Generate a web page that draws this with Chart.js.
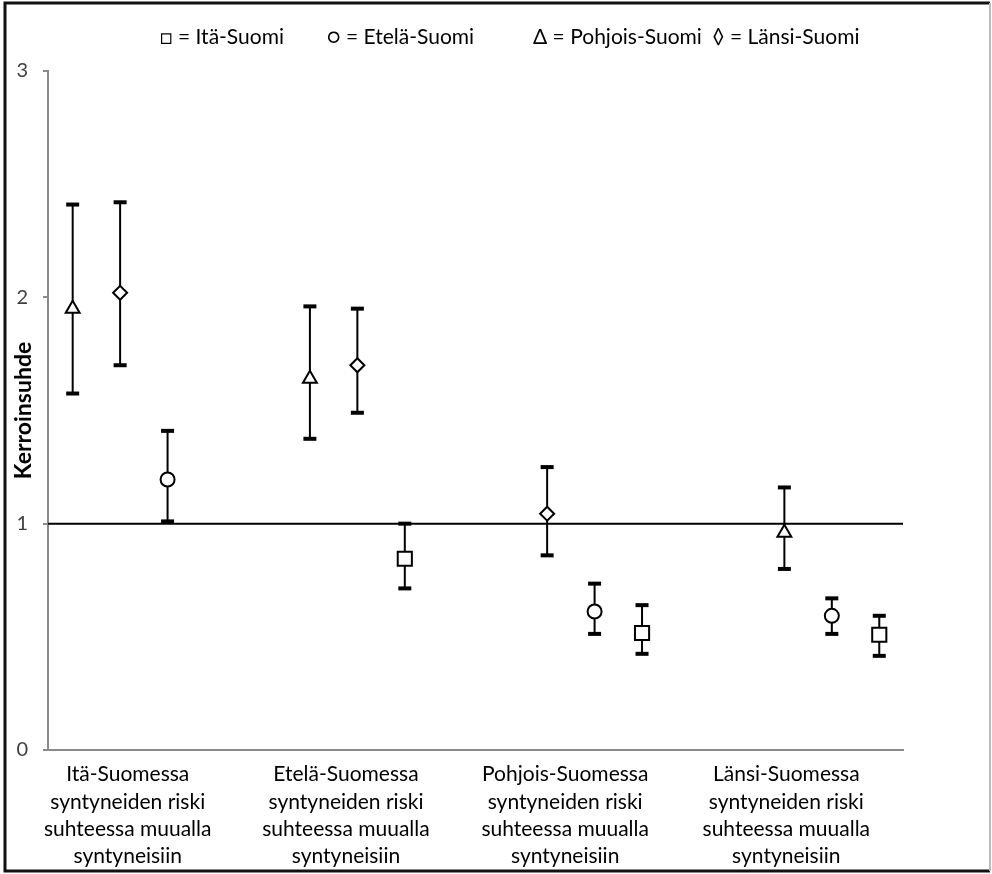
<!DOCTYPE html>
<html>
<head>
<meta charset="utf-8">
<script src="https://cdn.jsdelivr.net/npm/chart.js@4.4.1/dist/chart.umd.min.js"></script>
<style>
  body { margin: 0; background: #fff; }
</style>
</head>
<body>
<canvas id="chart" width="992" height="874"></canvas>
<script>
// x-axis categories (multi-line)
const groups = [
  ['Itä-Suomessa', 'syntyneiden riski', 'suhteessa muualla', 'syntyneisiin'],
  ['Etelä-Suomessa', 'syntyneiden riski', 'suhteessa muualla', 'syntyneisiin'],
  ['Pohjois-Suomessa', 'syntyneiden riski', 'suhteessa muualla', 'syntyneisiin'],
  ['Länsi-Suomessa', 'syntyneiden riski', 'suhteessa muualla', 'syntyneisiin']
];
const groupLabelAt = [2.16, 6.76, 11.38, 16.04];

const legendText = ['□ = Itä-Suomi', '○ = Etelä-Suomi', 'Δ = Pohjois-Suomi', '◊ = Länsi-Suomi'];
const yTicks = [0, 1, 2, 3];
const refValue = 1;

// slot inside group (0..2), odds ratio, lower and upper limit; null = not in group
const itaSlot = [null, 2, 2, 2];
const itaOR   = [null, 0.845, 0.517, 0.509];
const itaLow  = [null, 0.714, 0.425, 0.416];
const itaHigh = [null, 1.00, 0.64, 0.593];

const eteSlot = [2, null, 1, 1];
const eteOR   = [1.195, null, 0.612, 0.593];
const eteLow  = [1.01, null, 0.513, 0.513];
const eteHigh = [1.41, null, 0.735, 0.67];

const pohSlot = [0, 0, null, 0];
const pohOR   = [1.95, 1.64, null, 0.96];
const pohLow  = [1.575, 1.375, null, 0.80];
const pohHigh = [2.41, 1.96, null, 1.16];

const lanSlot = [1, 1, 0, null];
const lanOR   = [2.02, 1.70, 1.044, null];
const lanLow  = [1.70, 1.49, 0.86, null];
const lanHigh = [2.42, 1.95, 1.25, null];

const xMin = 0.48, xMax = 18.5;
const groupStep = 5;
const xOf = (g, s) => g * groupStep + s + 1;

function markerPoints(slot, vals) {
  const out = [];
  vals.forEach((v, g) => { if (v !== null) out.push({x: xOf(g, slot[g]), y: v}); });
  return out;
}
function whiskerPoints(slot, lo, hi) {
  const out = [];
  lo.forEach((v, g) => {
    if (v === null) return;
    const x = xOf(g, slot[g]);
    out.push({x: x, y: v}, {x: x, y: hi[g]}, {x: x, y: null});
  });
  return out;
}

Chart.defaults.font.family = "Lato, Roboto, sans-serif";
Chart.defaults.font.size = 21;
Chart.defaults.color = '#000';

const series = [
  {name: 'Itä-Suomi', slot: itaSlot, or: itaOR, lo: itaLow, hi: itaHigh, style: 'rect', r: 10},
  {name: 'Etelä-Suomi', slot: eteSlot, or: eteOR, lo: eteLow, hi: eteHigh, style: 'circle', r: 7},
  {name: 'Pohjois-Suomi', slot: pohSlot, or: pohOR, lo: pohLow, hi: pohHigh, style: 'triangle', r: 8},
  {name: 'Länsi-Suomi', slot: lanSlot, or: lanOR, lo: lanLow, hi: lanHigh, style: 'rectRot', r: 7}
];

const datasets = [];
series.forEach(s => {
  datasets.push({
    label: s.name,
    data: markerPoints(s.slot, s.or),
    pointStyle: s.style,
    pointRadius: s.r,
    pointBackgroundColor: '#fff',
    pointBorderColor: '#000',
    pointBorderWidth: 2,
    showLine: false,
    order: 0
  });
  datasets.push({
    label: s.name + ' CI',
    data: whiskerPoints(s.slot, s.lo, s.hi),
    showLine: true,
    spanGaps: false,
    borderColor: '#000',
    borderWidth: 2,
    pointStyle: 'line',
    pointRadius: 6.5,
    pointBorderColor: '#000',
    pointBorderWidth: 4,
    order: 1
  });
});
datasets.push({
  label: 'ref',
  data: [{x: xMin, y: refValue}, {x: xMax, y: refValue}],
  showLine: true,
  borderColor: '#000',
  borderWidth: 2,
  pointRadius: 0,
  order: 2
});

const legendShift = {
  id: 'legendShift',
  afterLayout(chart) {
    const lg = chart.legend;
    const w = lg.right - lg.left;
    lg.left = 149.5;
    lg.right = lg.left + w;
  }
};

const frame = {
  id: 'frame',
  afterDraw(chart) {
    const ctx = chart.ctx;
    ctx.save();
    ctx.strokeStyle = '#111';
    ctx.lineWidth = 3;
    ctx.beginPath();
    ctx.moveTo(990, 3); ctx.lineTo(5, 3); ctx.lineTo(5, 871); ctx.lineTo(990, 871);
    ctx.stroke();
    ctx.strokeStyle = '#bbb';
    ctx.lineWidth = 2;
    ctx.beginPath(); ctx.moveTo(990, 3); ctx.lineTo(990, 871); ctx.stroke();
    ctx.restore();
  }
};

new Chart(document.getElementById('chart'), {
  type: 'scatter',
  data: {datasets: datasets},
  plugins: [legendShift, frame],
  options: {
    responsive: false,
    devicePixelRatio: 1,
    animation: false,
    events: [],
    layout: {padding: {top: 13, right: 89, left: 0, bottom: 0}},
    plugins: {
      tooltip: {enabled: false},
      legend: {
        position: 'top',
        align: 'start',
        onClick: null,
        labels: {
          boxWidth: 0,
          boxHeight: 48,
          padding: 0,
          color: '#000',
          font: {size: 21},
          generateLabels: () => legendText.map((t, i) => ({
            text: t + (i === 0 ? '      ' : i === 1 ? '         ' : ''),
            fillStyle: 'rgba(0,0,0,0)',
            strokeStyle: 'rgba(0,0,0,0)',
            lineWidth: 0,
            hidden: false
          }))
        }
      }
    },
    scales: {
      x: {
        type: 'linear',
        min: xMin,
        max: xMax,
        afterBuildTicks: s => { s.ticks = groupLabelAt.map(v => ({value: v})); },
        afterFit: s => { s.height = 124; },
        ticks: {
          autoSkip: false,
          maxRotation: 0,
          padding: 11,
          color: '#000',
          font: {size: 21, lineHeight: 1.3},
          callback: (v, i) => groups[i]
        },
        grid: {display: false, drawTicks: false},
        border: {display: true, color: '#8a8a8a', width: 2}
      },
      y: {
        min: 0,
        max: 3,
        afterBuildTicks: s => { s.ticks = yTicks.map(v => ({value: v})); },
        afterFit: s => { s.width = 48; },
        ticks: {padding: 15, color: '#404040', font: {size: 20}},
        grid: {display: true, drawOnChartArea: false, drawTicks: true, tickLength: 5, color: '#8a8a8a', lineWidth: 2},
        border: {display: true, color: '#8a8a8a', width: 2},
        title: {
          display: true,
          text: 'Kerroinsuhde',
          color: '#000',
          font: {size: 23, weight: 'bold'},
          padding: {top: 10, bottom: 0}
        }
      }
    }
  }
});
</script>
</body>
</html>
